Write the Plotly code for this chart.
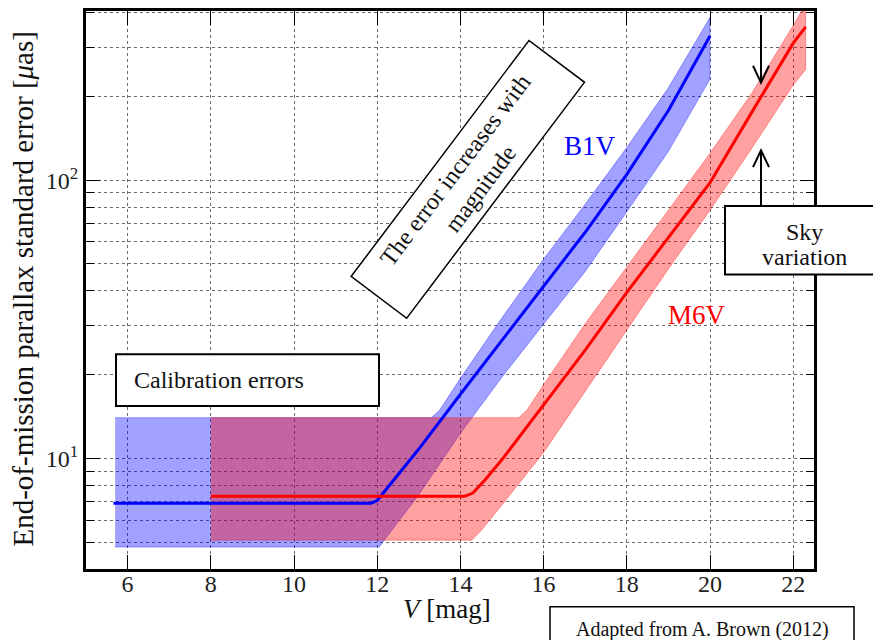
import math
import plotly.graph_objects as go

# ---------------- data ----------------
blue_x = [5.66, 11.85, 12.0, 12.5, 13.0, 14.0, 15.0, 16.0, 17.0, 18.0, 19.0, 20.0]
blue_y = [6.9, 6.9, 7.05, 8.7, 10.8, 17.0, 26.5, 41.5, 65.0, 105.0, 178.0, 330.0]

red_x = [8.0, 14.1, 14.3, 14.6, 15.0, 16.0, 17.0, 18.0, 19.0, 20.0, 21.0, 22.0, 22.3]
red_y = [7.3, 7.3, 7.5, 8.4, 9.9, 15.5, 24.5, 39.5, 62.0, 98.0, 175.0, 311.0, 356.0]

blue_upper_x = [5.7, 13.3, 13.5, 14.0, 15.0, 16.0, 17.0, 18.0, 19.0, 20.0]
blue_upper_y = [14.0, 14.0, 14.9, 19.4, 32.0, 52.0, 82.0, 131.0, 215.0, 385.0]
blue_lower_x = [5.7, 12.05, 12.5, 13.0, 14.0, 15.0, 16.0, 17.0, 18.0, 19.0, 20.0]
blue_lower_y = [4.8, 4.8, 5.9, 7.4, 12.3, 19.6, 30.4, 47.0, 77.0, 127.0, 231.0]

red_upper_x = [8.0, 15.4, 15.6, 16.0, 17.0, 18.0, 19.0, 20.0, 21.0, 22.0, 22.3]
red_upper_y = [14.0, 14.0, 14.9, 18.4, 30.5, 49.0, 78.0, 125.0, 205.0, 360.0, 430.0]
red_lower_x = [8.0, 14.27, 14.5, 15.0, 16.0, 17.0, 18.0, 19.0, 20.0, 21.0, 22.0, 22.3]
red_lower_y = [5.08, 5.08, 5.5, 6.8, 10.5, 17.5, 29.0, 48.0, 78.0, 130.0, 220.0, 250.0]

x_ticks = [6, 8, 10, 12, 14, 16, 18, 20, 22]
y_major = [10, 100]
y_major_text = ["10<sup>1</sup>", "10<sup>2</sup>"]
y_minor = [4, 5, 6, 7, 8, 9, 20, 30, 40, 50, 60, 70, 80, 90, 200, 300, 400]

SERIF = "Liberation Serif"

# plot area on screen (page has an 8px body margin)
PL, PR, PT, PB = 86, 814, 8, 569
def px(v):
    return (v - PL) / (PR - PL)
def py(v):
    return (PB - v) / (PB - PT)

fig = go.Figure()

def band(ux, uy, lx, ly, rgb):
    fig.add_trace(go.Scatter(
        x=ux + lx[::-1], y=uy + ly[::-1], mode="lines", fill="toself",
        fillcolor=f"rgba({rgb},0.37)", line=dict(color=f"rgba({rgb},0.35)", width=1),
        hoverinfo="skip", showlegend=False))

band(blue_upper_x, blue_upper_y, blue_lower_x, blue_lower_y, "0,0,255")
band(red_upper_x, red_upper_y, red_lower_x, red_lower_y, "255,0,0")

fig.add_trace(go.Scatter(x=blue_x, y=blue_y, mode="lines",
                         line=dict(color="#0000ff", width=3), showlegend=False))
fig.add_trace(go.Scatter(x=red_x, y=red_y, mode="lines",
                         line=dict(color="#ff0000", width=3), showlegend=False))

grid = dict(showgrid=True, gridcolor="#6a6a6a", gridwidth=1, griddash="dot")

fig.update_xaxes(range=[5, 22.5], tickvals=x_ticks, ticks="inside", ticklen=14,
                 tickwidth=1.2, tickcolor="black", showline=True, linecolor="black",
                 linewidth=3, mirror="allticks", zeroline=False, ticklabelstandoff=-9,
                 tickfont=dict(family=SERIF, size=24, color="#222"), **grid)
fig.update_yaxes(type="log", range=[math.log10(4), math.log10(406)],
                 tickvals=y_major, ticktext=y_major_text, ticks="inside", ticklen=14,
                 tickwidth=1.2, tickcolor="black", showline=True, linecolor="black",
                 linewidth=3, mirror="allticks", zeroline=False,
                 tickfont=dict(family=SERIF, size=24, color="#222"),
                 minor=dict(tickvals=y_minor, ticks="inside", ticklen=8, tickwidth=1,
                            tickcolor="black", showgrid=True, gridcolor="#6a6a6a",
                            gridwidth=1, griddash="dot"),
                 **grid)

def txt(text, x, y, size=24, color="#111", **kw):
    d = dict(text=text, xref="paper", yref="paper", x=px(x), y=py(y), showarrow=False,
             xanchor="center", yanchor="middle",
             font=dict(family=SERIF, size=size, color=color))
    d.update(kw)
    return d

ann = [
    txt("<i>V</i> [mag]", 447, 609, size=27),
    txt("End-of-mission parallax standard error [<i>μ</i>as]", 23, 288, size=29, textangle=-90),
    txt("B1V", 590, 144, size=27, color="#0000ff"),
    txt("M6V", 697, 314, size=27, color="#ff0000"),
    txt("The error increases with<br>magnitude", 467.5, 177, textangle=-53, width=288,
        height=62, bgcolor="white", bordercolor="black", borderwidth=1.5, borderpad=3),
    txt("Calibration errors", 132, 379, xanchor="left"),
    txt("Sky", 804, 230),
    txt("variation", 804, 255),
    txt("Adapted from A. Brown (2012)", 702, 630, size=20),
]

shapes = []
box = dict(type="rect", xref="paper", yref="paper", line=dict(color="black", width=2),
           fillcolor="white", layer="above")
shapes.append(dict(box, x0=px(116), x1=px(379), y0=py(405), y1=py(353)))
shapes.append(dict(box, x0=px(725), x1=px(900), y0=py(273), y1=py(204)))
shapes.append(dict(box, x0=px(550), x1=px(854), y0=py(607), y1=py(660),
                   line=dict(color="black", width=1.5)))

arr = dict(xref="paper", yref="paper", line=dict(color="black", width=2), layer="above")
ax = px(761)
shapes.append(dict(arr, type="line", x0=ax, x1=ax, y0=py(12), y1=py(80)))
shapes.append(dict(arr, type="path",
                   path=f"M {px(753)} {py(63)} L {ax} {py(80)} L {px(769)} {py(63)}"))
shapes.append(dict(arr, type="line", x0=ax, x1=ax, y0=py(204), y1=py(148)))
shapes.append(dict(arr, type="path",
                   path=f"M {px(753)} {py(165)} L {ax} {py(148)} L {px(769)} {py(165)}"))

W, H = 873, 632
fig.update_layout(width=W, height=H,
                  margin=dict(l=PL - 8, r=W - (PR - 8), t=PT - 8, b=H - (PB - 8)),
                  plot_bgcolor="white", paper_bgcolor="white", showlegend=False,
                  annotations=ann, shapes=shapes)

fig.write_html("out.html")
